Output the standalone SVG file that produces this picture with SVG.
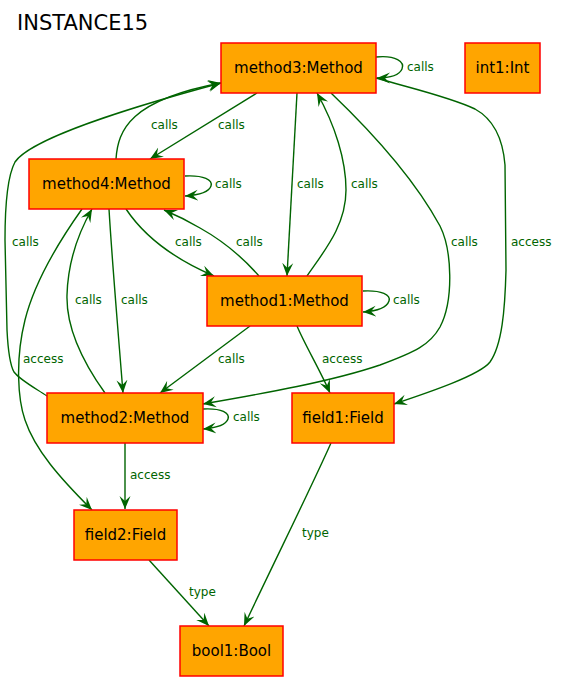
<svg xmlns="http://www.w3.org/2000/svg" width="567" height="682" viewBox="0 0 567 682">
<style>
.node rect{fill:#FFA500;stroke:#FF0000;stroke-width:1.5}
.node text{font-family:"DejaVu Sans",sans-serif;font-size:15px;fill:#000;text-anchor:middle}
.edges path{fill:none;stroke:#006400;stroke-width:1.4;marker-end:url(#arr)}
.lbl{font-family:"DejaVu Sans",sans-serif;font-size:12px;fill:#006400}
.title{font-family:"DejaVu Sans",sans-serif;font-size:21px;fill:#000}
</style>
<defs>
<marker id="arr" viewBox="-13 -6 14 12" refX="0" refY="0" markerWidth="14" markerHeight="12" markerUnits="userSpaceOnUse" orient="auto">
<path d="M0,0 L-13,-5.5 L-8,0 L-13,5.5 z" fill="#006400"/>
</marker>
</defs>
<rect width="567" height="682" fill="#fff"/>
<text class="title" x="17" y="30">INSTANCE15</text>
<g class="edges" id="edges">
<path d="M376,57 C396,55 405,62 402,69 C399,76 390,78 377,78"/>
<path d="M257,93 L150,159"/>
<path d="M116,159 C118,130 130,100 221,83"/>
<path d="M47,396 C35,388 20,380 14,372 C10,365 8,350 7,330 L5,240 C5,200 8,175 15,162 C30,140 120,110 221,83"/>
<path d="M376,78 C410,88 450,97 475,109 C495,120 503,140 505,165 L506,270 C505,310 502,345 490,362 C480,375 430,392 394,404"/>
<path d="M331,93 C375,135 415,180 440,226 C452,250 454,300 440,327 C430,345 415,352 380,365 C330,382 260,394 203,404"/>
<path d="M297,93 L287,276"/>
<path d="M307,276 C325,250 346,225 346,190 C346,160 335,125 317,93"/>
<path d="M185,176 C204,175 213,180 211,186 C209,192 200,195 185,196"/>
<path d="M126,209 C140,230 165,255 214,276"/>
<path d="M259,276 C245,260 225,242 200,228 C188,221 176,215 164,210"/>
<path d="M109,209 C112,260 118,330 123,393"/>
<path d="M105,393 C85,365 66,330 67,295 C68,260 80,230 92,209"/>
<path d="M82,209 C60,240 35,280 25,320 C15,360 18,400 25,420 C35,450 60,478 92,510"/>
<path d="M363,291 C382,290 391,295 389,301 C387,307 378,311 363,312"/>
<path d="M250,326 L160,393"/>
<path d="M297,326 C305,345 320,370 330,393"/>
<path d="M203,409 C222,408 230,413 228,419 C226,425 215,428 203,429"/>
<path d="M125,443 L125,509"/>
<path d="M331,443 C310,490 280,550 244,626"/>
<path d="M149,560 L209,626"/>
<text class="lbl" x="407" y="71">calls</text>
<text class="lbl" x="151" y="129">calls</text>
<text class="lbl" x="218" y="129">calls</text>
<text class="lbl" x="215" y="188">calls</text>
<text class="lbl" x="297" y="188">calls</text>
<text class="lbl" x="351" y="188">calls</text>
<text class="lbl" x="12" y="246">calls</text>
<text class="lbl" x="175" y="246">calls</text>
<text class="lbl" x="236" y="246">calls</text>
<text class="lbl" x="451" y="246">calls</text>
<text class="lbl" x="511" y="246">access</text>
<text class="lbl" x="75" y="304">calls</text>
<text class="lbl" x="121" y="304">calls</text>
<text class="lbl" x="393" y="304">calls</text>
<text class="lbl" x="23" y="363">access</text>
<text class="lbl" x="218" y="363">calls</text>
<text class="lbl" x="322" y="363">access</text>
<text class="lbl" x="233" y="421">calls</text>
<text class="lbl" x="130" y="479">access</text>
<text class="lbl" x="302" y="537">type</text>
<text class="lbl" x="189" y="596">type</text>
</g>
<g class="node" id="method3"><rect x="221" y="43" width="155" height="50"/><text x="298.5" y="73">method3:Method</text></g>
<g class="node" id="int1"><rect x="465" y="43" width="75" height="50"/><text x="502.5" y="73">int1:Int</text></g>
<g class="node" id="method4"><rect x="29" y="159" width="155" height="50"/><text x="106.5" y="189">method4:Method</text></g>
<g class="node" id="method1"><rect x="207" y="276" width="155" height="50"/><text x="284.5" y="306">method1:Method</text></g>
<g class="node" id="method2"><rect x="47" y="393" width="156" height="50"/><text x="125" y="423">method2:Method</text></g>
<g class="node" id="field1"><rect x="292" y="393" width="102" height="50"/><text x="343" y="423">field1:Field</text></g>
<g class="node" id="field2"><rect x="74" y="510" width="103" height="50"/><text x="125.5" y="540">field2:Field</text></g>
<g class="node" id="bool1"><rect x="180" y="626" width="103" height="50"/><text x="231.5" y="656">bool1:Bool</text></g>
</svg>
